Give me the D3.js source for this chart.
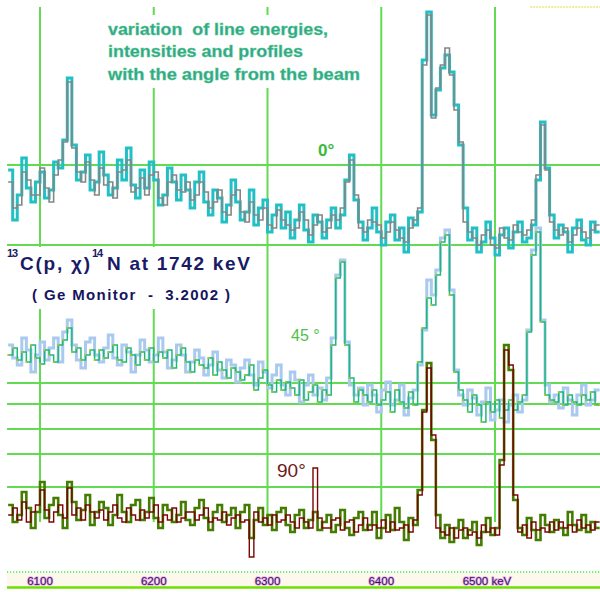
<!DOCTYPE html>
<html><head><meta charset="utf-8">
<script src="https://cdn.jsdelivr.net/npm/d3@7"></script>
<style>html,body{margin:0;padding:0;background:#fff}svg{display:block}text{white-space:pre}</style>
</head><body>
<svg id="c" width="600" height="592"></svg>
<script>
// ---- data (display counts, arbitrary offset units) ----
const binStart = 6072, binWidth = 4; // keV
const counts0A = [430,380,405,442,412,398,418,428,402,410,
438,432,460,522,455,420,428,445,410,418,
448,425,405,412,440,420,452,415,402,430,
412,438,420,395,405,432,418,400,425,410,
392,418,428,398,385,410,402,378,395,420,
398,380,388,410,375,392,400,368,385,395,
372,388,362,380,395,370,358,385,378,362,
380,392,372,385,420,445,400,378,360,372,
392,368,355,378,385,360,372,348,382,375,
388,540,588,485,510,532,545,528,495,455,
392,360,372,348,358,378,362,345,365,372,
352,368,378,358,362,375,420,478,432,385,
362,375,368,348,372,380,360,355,378,368];
const counts0B = [418,392,395,428,420,405,405,432,412,398,
425,440,458,518,452,428,418,438,420,405,
432,415,418,402,428,430,440,408,412,422,
405,425,428,402,395,418,425,410,408,418,
400,405,418,408,392,398,410,388,385,405,
410,388,378,398,385,380,392,375,372,390,
380,375,370,372,388,380,365,375,385,368,
372,385,380,392,418,440,405,372,368,380,
378,375,362,368,378,370,362,358,372,380,
392,535,585,482,512,535,552,525,490,458,
378,368,362,355,365,370,355,352,372,362,
360,375,368,365,370,380,425,475,430,378,
370,365,372,358,365,372,368,362,370,375];
const counts45A = [255,242,235,262,250,228,245,258,240,252,
262,238,268,280,255,240,232,258,262,245,
238,252,265,242,235,255,248,228,245,260,
250,238,245,262,248,232,240,255,245,228,
238,250,242,225,235,248,230,222,240,235,
218,232,240,225,215,238,228,212,225,235,
215,205,228,220,198,215,225,205,212,200,
222,262,325,340,258,215,205,212,195,215,
205,188,210,218,195,200,215,185,202,210,
235,270,320,305,330,362,370,310,230,205,
195,210,202,185,198,212,180,190,200,178,
195,205,188,200,270,350,372,280,215,198,
205,192,212,200,185,205,215,195,200,210];
const counts45B = [245,252,240,248,238,255,242,236,250,245,
238,255,260,272,248,252,240,245,250,240,
250,242,248,255,240,238,252,245,235,248,
240,252,238,248,242,250,232,245,252,238,
228,240,235,232,242,225,238,230,222,232,
228,220,225,235,210,222,230,215,208,220,
210,218,212,205,220,200,208,215,198,210,
205,255,322,338,255,222,198,210,205,198,
210,195,200,208,188,210,198,192,208,195,
238,272,302,295,325,358,365,305,228,210,
200,188,205,195,178,198,188,200,182,190,
200,190,198,205,268,345,368,278,205,200,
198,208,195,205,198,195,205,200,208,195];
const counts90A = [95,78,85,108,92,72,88,118,82,95,
102,85,72,118,98,80,90,105,75,88,
98,92,75,85,105,88,78,95,100,80,
88,102,82,72,95,90,78,85,98,80,
75,92,100,82,70,88,95,78,85,92,
72,88,95,62,80,92,75,85,70,88,
92,75,68,85,90,72,80,88,70,78,
85,68,75,90,72,65,82,88,70,75,
88,62,72,85,70,92,78,60,82,75,
110,190,237,160,85,62,75,58,72,80,
62,70,78,55,68,82,65,72,140,255,
230,100,72,65,82,70,60,85,75,68,
80,72,65,88,75,70,85,68,78,72];
const counts90B = [85,92,80,98,78,88,95,110,90,78,
88,95,82,112,85,92,80,95,88,82,
90,80,88,95,82,78,92,85,80,90,
82,88,95,78,85,80,92,78,82,88,
88,80,85,92,78,82,80,88,75,82,
85,78,80,43,88,78,82,75,85,78,
80,85,78,72,82,78,72,132,82,72,
72,80,82,70,78,80,68,75,82,70,
75,72,80,68,78,70,72,75,68,80,
105,188,232,165,72,68,65,72,62,70,
72,65,68,62,75,68,72,65,135,250,
235,105,68,75,62,78,70,72,68,78,
70,78,72,75,68,80,72,75,70,78];
const gridEnergies = [6100, 6200, 6300, 6400, 6500];
const gridLevels = [435, 355, 217, 196, 171, 146, 113];
const tickValues = [6100, 6200, 6300, 6400, 6500];
const tickLabels = ["6100", "6200", "6300", "6400", "6500 keV"];
const angleLabels = ["0°", "45 °", "90°"];

// ---- scales ----
const eMin = 6071, eMax = 6592.5;
const x = d3.scaleLinear().domain([6100, 6500]).range([40, 495]);
const y = d3.scaleLinear().domain([0, 600]).range([600, 0]);

const svg = d3.select("#c");
svg.append("rect").attr("width", 600).attr("height", 592).attr("fill", "#fff");
svg.append("defs").append("clipPath").attr("id", "clip")
  .append("rect").attr("x", x(eMin)).attr("y", 0).attr("width", x(eMax) - x(eMin)).attr("height", 592);

const gridColor = "#62db52";
svg.append("g").selectAll("line").data(gridLevels).join("line")
  .attr("x1", x(eMin)).attr("x2", x(eMax))
  .attr("y1", d => y(d)).attr("y2", d => y(d))
  .attr("stroke", gridColor).attr("stroke-width", 2);
svg.append("g").selectAll("line").data(gridEnergies).join("line")
  .attr("x1", d => x(d)).attr("x2", d => x(d))
  .attr("y1", y(593)).attr("y2", y(78))
  .attr("stroke", gridColor).attr("stroke-width", 2);

svg.append("line").attr("x1", x(6531)).attr("x2", x(eMax)).attr("y1", y(593)).attr("y2", y(593))
  .attr("stroke", "#e0dc30").attr("stroke-width", 1.2).attr("stroke-dasharray", "2,1");

// ---- traces ----
const traces = svg.append("g").attr("clip-path", "url(#clip)");
const line = d3.line().x(d => x(d[0])).y(d => y(d[1])).curve(d3.curveStepAfter);
function pts(vals) {
  const p = vals.map((v, i) => [binStart + i * binWidth, v]);
  p.push([binStart + vals.length * binWidth, vals[vals.length - 1]]);
  return p;
}
function trace(vals, color, w) {
  traces.append("path").attr("d", line(pts(vals))).attr("fill", "none")
    .attr("stroke", color).attr("stroke-width", w).attr("stroke-linejoin", "miter");
}
trace(counts0A, "#22bfc4", 3);
trace(counts0B, "#858585", 1.6);
trace(counts45A, "#a9c9ee", 3);
trace(counts45B, "#1fb87a", 1.5);
traces.append("g").selectAll("circle").data(pts(counts45B)).join("circle")
  .attr("cx", d => x(d[0])).attr("cy", d => y(d[1])).attr("r", 1)
  .attr("fill", "#b4cc10");
trace(counts90A, "#437c00", 2.6);
trace(counts90B, "#7c0404", 1.4);

// ---- bottom axis band ----
svg.append("rect").attr("x", x(eMin)).attr("y", y(27)).attr("width", x(eMax) - x(eMin)).attr("height", y(12) - y(27))
  .attr("fill", "#fdf8ec");
svg.append("line").attr("x1", x(eMin)).attr("x2", x(eMax)).attr("y1", y(28)).attr("y2", y(28))
  .attr("stroke", "#3ee83e").attr("stroke-width", 1.6).attr("stroke-dasharray", "1.2,1.8");
svg.append("line").attr("x1", x(eMin)).attr("x2", x(eMax)).attr("y1", y(12.5)).attr("y2", y(12.5))
  .attr("stroke", "#6ee000").attr("stroke-width", 2.5);
svg.append("g").selectAll("text").data(tickValues).join("text")
  .attr("x", (d, i) => x(d) + (i === tickValues.length - 1 ? -8 : 0))
  .attr("y", y(15.5)).attr("text-anchor", "middle")
  .attr("font-family", "Liberation Sans, Arial, sans-serif").attr("font-size", 11.5)
  .attr("fill", "#221c55").attr("stroke", "#f4aaf0").attr("stroke-width", 1.6)
  .attr("paint-order", "stroke")
  .text((d, i) => tickLabels[i]);

// ---- annotations ----
const F = "Liberation Sans, Arial, Helvetica, sans-serif";
svg.append("rect").attr("x", 104).attr("y", 15).attr("width", 262).attr("height", 73).attr("fill", "#fff");
const note = ["variation  of line energies,", "intensities and profiles", "with the angle from the beam"];
const noteW = [220, 195, 252];
const noteY = [35, 57, 80];
svg.append("g").selectAll("text").data(note).join("text")
  .attr("x", 108).attr("y", (d, i) => noteY[i])
  .attr("font-family", F).attr("font-weight", "bold").attr("font-size", 16)
  .attr("fill", "#35a39a").attr("stroke", "#4fd070").attr("stroke-width", 0.4)
  .attr("textLength", (d, i) => noteW[i]).attr("lengthAdjust", "spacingAndGlyphs")
  .text(d => d);

svg.append("rect").attr("x", 7).attr("y", 247).attr("width", 250).attr("height", 62).attr("fill", "#fff");
const navy = "#1a1a66";
svg.append("text").attr("x", 7).attr("y", 257).attr("font-family", F).attr("font-weight", "bold")
  .attr("font-size", 11).attr("fill", navy).attr("textLength", 11).text("13");
svg.append("text").attr("x", 20).attr("y", 270).attr("font-family", F).attr("font-weight", "bold")
  .attr("font-size", 19).attr("fill", navy).attr("textLength", 70).attr("lengthAdjust", "spacing").text("C(p, χ)");
svg.append("text").attr("x", 92).attr("y", 257).attr("font-family", F).attr("font-weight", "bold")
  .attr("font-size", 11).attr("fill", navy).attr("textLength", 11).text("14");
svg.append("text").attr("x", 107).attr("y", 270).attr("font-family", F).attr("font-weight", "bold")
  .attr("font-size", 19).attr("fill", navy).attr("textLength", 143).attr("lengthAdjust", "spacing").text("N at 1742 keV");
svg.append("text").attr("x", 32).attr("y", 300).attr("font-family", F).attr("font-weight", "bold")
  .attr("font-size", 15).attr("fill", "#15155e").attr("textLength", 198).attr("lengthAdjust", "spacing")
  .text("( Ge Monitor  -  3.2002 )");

svg.append("text").attr("x", 318).attr("y", 156).attr("font-family", F).attr("font-weight", "bold")
  .attr("font-size", 17).attr("fill", "#38bb3a").text(angleLabels[0]);
svg.append("text").attr("x", 291).attr("y", 341).attr("font-family", F)
  .attr("font-size", 16).attr("fill", "#52bf4a").text(angleLabels[1]);
svg.append("text").attr("x", 277).attr("y", 477).attr("font-family", F)
  .attr("font-size", 19).attr("fill", "#6e1a1a").text(angleLabels[2]);
</script>
</body></html>
